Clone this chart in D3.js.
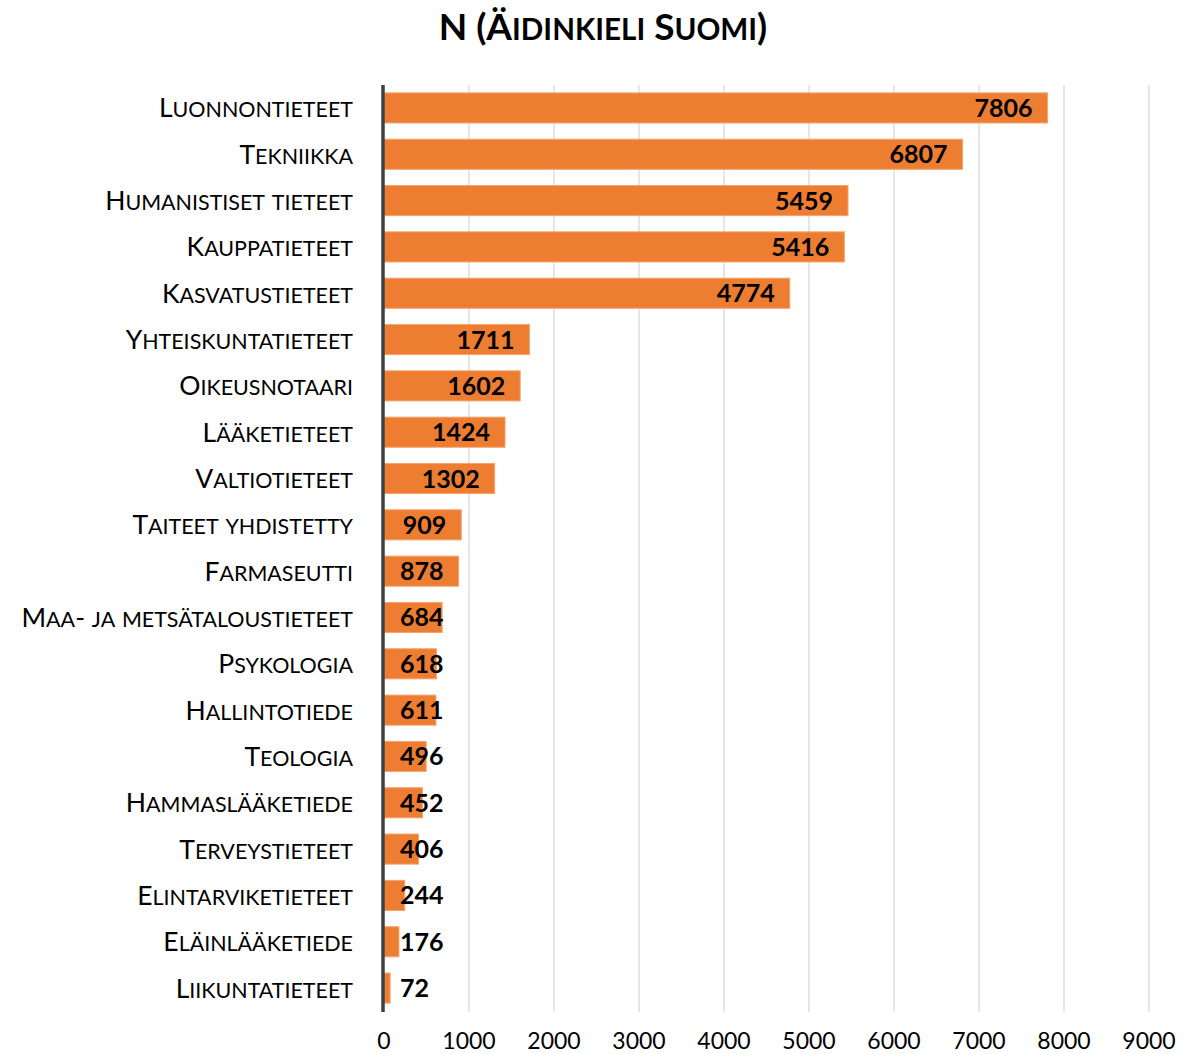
<!DOCTYPE html>
<html>
<head>
<meta charset="utf-8">
<script src="https://cdn.jsdelivr.net/npm/d3@7"></script>
<style>
  body { margin: 0; background: #fff; }
  text { font-family: Lato, "Open Sans", sans-serif; }
</style>
</head>
<body>
<svg id="chart" width="1203" height="1054"></svg>
<script>
const categories = ["Luonnontieteet", "Tekniikka", "Humanistiset tieteet", "Kauppatieteet",
  "Kasvatustieteet", "Yhteiskuntatieteet", "Oikeusnotaari", "Lääketieteet", "Valtiotieteet",
  "Taiteet yhdistetty", "Farmaseutti", "Maa- ja metsätaloustieteet", "Psykologia",
  "Hallintotiede", "Teologia", "Hammaslääketiede", "Terveystieteet", "Elintarviketieteet",
  "Eläinlääketiede", "Liikuntatieteet"]
const values = [7806, 6807, 5459, 5416, 4774, 1711, 1602, 1424, 1302, 909, 878, 684, 618, 611, 496, 452, 406, 244, 176, 72]
const ticks = [0, 1000, 2000, 3000, 4000, 5000, 6000, 7000, 8000, 9000]
const title = "N (Äidinkieli Suomi)"

const svg = d3.select("#chart")

const x = d3.scaleLinear().domain([0, 9000]).range([384, 1149])
const y = d3.scaleBand().domain(categories).range([85, 1011]).paddingInner(0.35).paddingOuter(0.17)

// small caps by hand: runs of lower case get a smaller, upper-cased tspan
function smallCaps(sel, size, ratio) {
  sel.each(function (d) {
    const t = d3.select(this)
    const str = typeof d === "string" ? d : t.text()
    t.text(null)
    const runs = str.match(/([^a-zäöå]+|[a-zäöå]+)/g)
    runs.forEach(r => {
      const lower = /[a-zäöå]/.test(r[0])
      t.append("tspan")
        .attr("font-size", lower ? size * ratio : size)
        .text(lower ? r.toUpperCase() : r)
    })
  })
}

// grid lines
svg.append("g").selectAll("line")
  .data(ticks.slice(1))
  .join("line")
    .attr("x1", d => x(d)).attr("x2", d => x(d))
    .attr("y1", 85).attr("y2", 1012)
    .attr("stroke", "#d9d9d9").attr("stroke-width", 1.3)

// tick labels
svg.append("g").selectAll("text")
  .data(ticks)
  .join("text")
    .attr("x", d => x(d)).attr("y", 1049)
    .attr("text-anchor", "middle")
    .attr("font-size", 23)
    .attr("fill", "#000")
    .text(d => d)

// bars
const data = categories.map((c, i) => ({ name: c, value: values[i] }))
svg.append("g").selectAll("rect")
  .data(data)
  .join("rect")
    .attr("x", x(0))
    .attr("y", d => y(d.name))
    .attr("width", d => x(d.value) - x(0))
    .attr("height", y.bandwidth())
    .attr("fill", "#ed7d31")
    .attr("stroke", "#f4a571").attr("stroke-width", 1)

// axis line
svg.append("line")
  .attr("x1", 383).attr("x2", 383)
  .attr("y1", 85).attr("y2", 1012)
  .attr("stroke", "#404040").attr("stroke-width", 3.5)

// category labels
svg.append("g").selectAll("text")
  .data(categories)
  .join("text")
    .attr("x", 353)
    .attr("y", d => y(d) + y.bandwidth() / 2)
    .attr("dy", "0.36em")
    .attr("text-anchor", "end")
    .attr("font-size", 26.5)
    .attr("fill", "#000")
    .call(smallCaps, 26.5, 0.81)

// value labels
svg.append("g").selectAll("text")
  .data(data)
  .join("text")
    .attr("y", d => y(d.name) + y.bandwidth() / 2)
    .attr("dy", "0.36em")
    .attr("font-size", 25)
    .attr("font-weight", "bold")
    .attr("text-anchor", "end")
    .attr("fill", "#000")
    .text(d => d.value)
    .attr("x", function (d) {
      const w = this.getComputedTextLength()
      return Math.max(x(d.value) - 15, x(0) + 16 + w)
    })

// title
svg.append("text")
  .datum(title)
  .attr("x", 603).attr("y", 40)
  .attr("text-anchor", "middle")
  .attr("font-size", 37)
  .attr("font-weight", "bold")
  .call(smallCaps, 37, 0.8)
</script>
</body>
</html>
